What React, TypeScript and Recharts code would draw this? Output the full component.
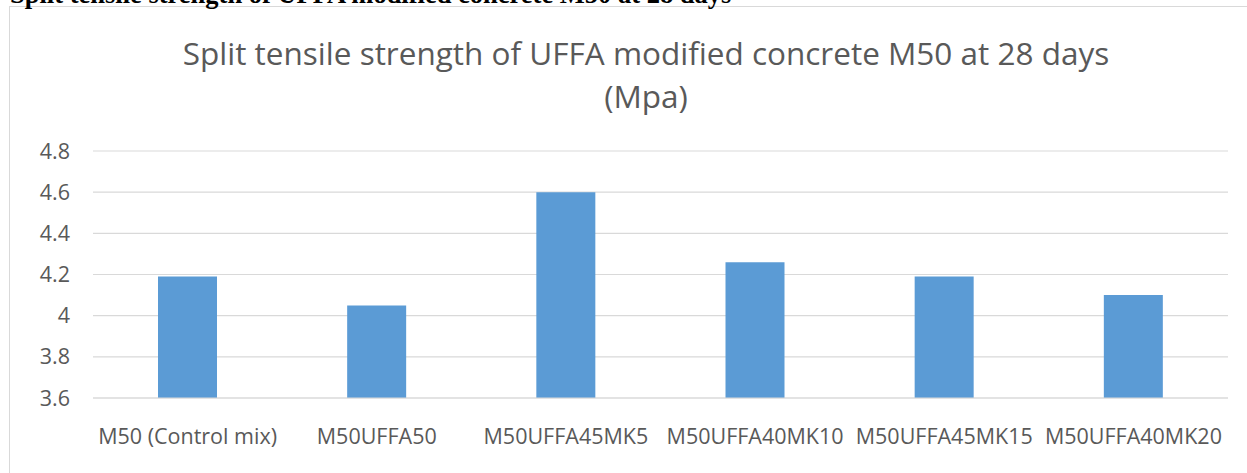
import React from 'react';
import { BarChart, Bar, XAxis, YAxis, CartesianGrid } from 'recharts';

const categories = [
  'M50 (Control mix)',
  'M50UFFA50',
  'M50UFFA45MK5',
  'M50UFFA40MK10',
  'M50UFFA45MK15',
  'M50UFFA40MK20',
];
const strengthValues = [4.19, 4.05, 4.6, 4.26, 4.19, 4.1];
const yTicks = [3.6, 3.8, 4, 4.2, 4.4, 4.6, 4.8];
const titleLine1 = 'Split tensile strength of UFFA modified concrete M50 at 28 days';
const titleLine2 = '(Mpa)';
const captionText = 'Split tensile strength of UFFA modified concrete M50 at 28 days';

const data = categories.map((name, i) => ({ name, value: strengthValues[i] }));

const W = 1247;
const H = 473;
const FONT = '"Open Sans", sans-serif';
const GRAY = '#595959';

export default function App() {
  return (
    <div style={{ position: 'fixed', left: 0, top: 0, width: W, height: H, background: '#fff', overflow: 'hidden' }}>
      <div
        style={{
          position: 'absolute',
          left: 9,
          top: 6,
          width: W + 40,
          height: H + 40,
          border: '1.5px solid #d9d9d9',
          boxSizing: 'border-box',
        }}
      />
      <div style={{ position: 'absolute', left: 0, top: 0 }}>
        <BarChart
          width={W}
          height={H}
          data={data}
          margin={{ top: 151, right: 19, bottom: 45, left: 33 }}
        >
          <CartesianGrid vertical={false} stroke="#d9d9d9" strokeWidth={1.2} />
          <XAxis
            dataKey="name"
            height={30}
            axisLine={{ stroke: '#d9d9d9', strokeWidth: 1.2 }}
            tickLine={false}
            tickSize={0}
            tickMargin={31}
            interval={0}
            tick={{ fill: GRAY, fontSize: 21.5, fontFamily: FONT }}
          />
          <YAxis
            width={60}
            domain={[3.6, 4.8]}
            ticks={yTicks}
            axisLine={false}
            tickLine={false}
            tickSize={0}
            tickMargin={23}
            tick={{ fill: GRAY, fontSize: 21.5, fontFamily: FONT }}
          />
          <Bar dataKey="value" fill="#5B9BD5" barSize={59} isAnimationActive={false} />
        </BarChart>
      </div>
      <svg width={W} height={H} style={{ position: 'absolute', left: 0, top: 0, pointerEvents: 'none' }}>
        <text x={10} y={3} fontFamily='"Liberation Serif", serif' fontWeight="bold" fontSize={26.5} fill="#000">
          {captionText}
        </text>
        <text x={646} y={65} textAnchor="middle" fontFamily={FONT} fontSize={31.5} fill={GRAY}>
          {titleLine1}
        </text>
        <text x={646} y={108} textAnchor="middle" fontFamily={FONT} fontSize={31.5} fill={GRAY}>
          {titleLine2}
        </text>
      </svg>
    </div>
  );
}
